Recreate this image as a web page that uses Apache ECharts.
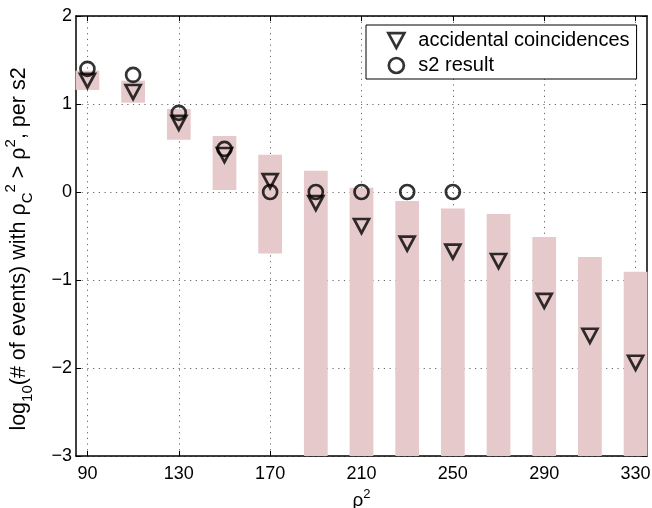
<!DOCTYPE html>
<html>
<head>
<meta charset="utf-8">
<script src="https://cdn.jsdelivr.net/npm/echarts@6/dist/echarts.min.js"></script>
<style>
html,body{margin:0;padding:0;background:#fff;}
#chart{width:652px;height:508px;}
</style>
</head>
<body>
<div id="chart"></div>
<script>
// ---- data ----
const rho2 = [90, 110, 130, 150, 170, 190, 210, 230, 250, 270, 290, 310, 330];
const bandLow = [1.16, 1.015, 0.594, 0.023, -0.70, -3, -3, -3, -3, -3, -3, -3, -3];
const bandHigh = [1.379, 1.265, 0.943, 0.636, 0.424, 0.242, 0.049, -0.102, -0.187, -0.25, -0.511, -0.739, -0.906];
const accidental = [1.265, 1.136, 0.786, 0.42, 0.123, -0.125, -0.386, -0.587, -0.678, -0.784, -1.237, -1.634, -1.94];
const s2Rho2 = [90, 110, 130, 150, 170, 190, 210, 230, 250];
const s2Result = [1.4, 1.33, 0.90, 0.489, 0, 0, 0, 0, 0];
const xTickValues = [90, 130, 170, 210, 250, 290, 330];
const xRange = [85, 335];
const yRange = [-3, 2];

const FONT = '"Liberation Sans", Arial, Helvetica, sans-serif';
const HALF_BAND = 5.2;
const DOWN_TRIANGLE = 'path://M0,0 L10,0 L5,9.3 Z';

const bandData = rho2.map((x, i) => [x, bandLow[i], bandHigh[i]]);
const accData = rho2.map((x, i) => [x, accidental[i]]);
const s2Data = s2Rho2.map((x, i) => [x, s2Result[i]]);

const gridDots = { color: '#666', width: 1, type: [1.2, 4.5] };
const axisLineStyle = { color: '#000', width: 1.5 };
const markerStyle = { color: 'rgba(0,0,0,0)', borderColor: '#000', borderWidth: 2.7 };

const chart = echarts.init(document.getElementById('chart'), null, { renderer: 'canvas' });
chart.setOption({
  animation: false,
  backgroundColor: '#fff',
  textStyle: { fontFamily: FONT },
  grid: { left: 76, right: 5, top: 16, bottom: 52, containLabel: false, outerBoundsMode: 'none' },
  xAxis: [
    {
      type: 'value', min: xRange[0], max: xRange[1], position: 'bottom',
      axisLine: { show: true, onZero: false, lineStyle: axisLineStyle },
      axisTick: { show: true, inside: true, length: 5, customValues: xTickValues, lineStyle: { color: '#000', width: 1 } },
      axisLabel: { show: true, customValues: xTickValues, fontSize: 18, color: '#000', margin: 9, fontFamily: FONT },
      splitLine: { show: true, customValues: xTickValues, lineStyle: gridDots },
      name: '{n|ρ}{p|2}',
      nameLocation: 'middle', nameGap: 22,
      nameTextStyle: {
        rich: {
          n: { fontSize: 19, fontFamily: FONT, color: '#000', lineHeight: 26, height: 26 },
          p: { fontSize: 13, fontFamily: FONT, color: '#000', lineHeight: 13, height: 13, verticalAlign: 'top' }
        }
      }
    },
    {
      type: 'value', min: xRange[0], max: xRange[1], position: 'top',
      axisLine: { show: true, onZero: false, lineStyle: axisLineStyle },
      axisTick: { show: true, inside: true, length: 5, customValues: xTickValues, lineStyle: { color: '#000', width: 1 } },
      axisLabel: { show: false },
      splitLine: { show: false }
    }
  ],
  yAxis: [
    {
      type: 'value', min: yRange[0], max: yRange[1], interval: 1, position: 'left',
      axisLine: { show: true, onZero: false, lineStyle: axisLineStyle },
      axisTick: { show: true, inside: true, length: 5, lineStyle: { color: '#000', width: 1 } },
      axisLabel: { fontSize: 18, color: '#000', margin: 4, fontFamily: FONT,
        formatter: v => (v < 0 ? '\u2212' + Math.abs(v) : String(v)) },
      splitLine: { show: true, lineStyle: gridDots },
      name: '{n|log}{s|10}{n|(# of events) with ρ}{s|C}{p|2}{n| > ρ}{p|2}{n|, per s2}',
      nameLocation: 'middle', nameGap: 41, nameRotate: 90,
      nameTextStyle: {
        padding: [0, 26, 0, 0],
        rich: {
          n: { fontSize: 21.5, fontFamily: FONT, color: '#000', lineHeight: 32, height: 32 },
          s: { fontSize: 15, fontFamily: FONT, color: '#000', lineHeight: 15, height: 15, verticalAlign: 'bottom' },
          p: { fontSize: 15, fontFamily: FONT, color: '#000', lineHeight: 15, height: 15, verticalAlign: 'top' }
        }
      }
    },
    {
      type: 'value', min: yRange[0], max: yRange[1], interval: 1, position: 'right',
      axisLine: { show: true, onZero: false, lineStyle: axisLineStyle },
      axisTick: { show: true, inside: true, length: 5, lineStyle: { color: '#000', width: 1 } },
      axisLabel: { show: false },
      splitLine: { show: false }
    }
  ],
  legend: {
    orient: 'vertical', left: 366, top: 25,
    padding: [4, 7, 2, 21], itemGap: 2, itemWidth: 16, itemHeight: 15,
    borderColor: '#000', borderWidth: 1, backgroundColor: '#fff',
    itemStyle: { borderWidth: 2.7, borderColor: '#000', color: 'rgba(0,0,0,0)' },
    textStyle: { fontSize: 20, fontFamily: FONT, color: '#000', padding: [0, 0, 0, 9], lineHeight: 23 },
    data: [
      { name: 'accidental coincidences', icon: DOWN_TRIANGLE },
      { name: 's2 result', icon: 'circle' }
    ]
  },
  series: [
    {
      type: 'custom', name: 'band', xAxisIndex: 0, yAxisIndex: 0,
      data: bandData, encode: { x: 0, y: [1, 2] }, silent: true, z: 1,
      renderItem: (params, api) => {
        const x = api.value(0), lo = api.value(1), hi = api.value(2);
        const p1 = api.coord([x - HALF_BAND, hi]);
        const p2 = api.coord([x + HALF_BAND, lo]);
        return { type: 'rect', shape: { x: p1[0], y: p1[1], width: p2[0] - p1[0], height: p2[1] - p1[1] },
                 style: { fill: '#e6c9cb' } };
      }
    },
    {
      type: 'scatter', name: 'accidental coincidences', data: accData, z: 3,
      symbol: DOWN_TRIANGLE, symbolSize: [15, 14],
      itemStyle: markerStyle
    },
    {
      type: 'scatter', name: 's2 result', data: s2Data, z: 4,
      symbol: 'circle', symbolSize: 14,
      itemStyle: markerStyle
    }
  ]
});
</script>
</body>
</html>
